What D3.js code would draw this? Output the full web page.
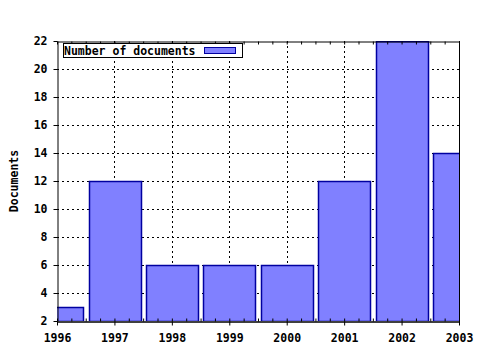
<html>
<head>
<meta charset="utf-8">
<script src="https://cdn.jsdelivr.net/npm/d3@7"></script>
<style>
  body { margin: 0; background: #fff; }
  text { font-family: "DejaVu Sans Mono", monospace; font-weight: bold; font-size: 11.5px; fill: #000; }
</style>
</head>
<body>
<script>
// data
var years = [1996, 1997, 1998, 1999, 2000, 2001, 2002, 2003];
var documents = [3, 12, 6, 6, 6, 12, 22, 14];
var yTicks = [2, 4, 6, 8, 10, 12, 14, 16, 18, 20, 22];
var seriesName = "Number of documents";
var yTitle = "Documents";

var W = 480, H = 350;
var plotL = 57, plotR = 459, plotT = 41, plotB = 321;

var svg = d3.select('body').append('svg')
  .attr('width', W).attr('height', H);

var x = d3.scaleLinear().domain([1996, 2003]).range([plotL, plotR]);
var y = d3.scaleLinear().domain([2, 22]).range([plotB, plotT]);
var step = x(1997) - x(1996);
var barW = step * 0.9;

svg.append('defs').append('clipPath').attr('id', 'plot')
  .append('rect').attr('x', plotL).attr('y', plotT)
  .attr('width', plotR - plotL).attr('height', plotB - plotT);

// dotted grid
var grid = svg.append('g').attr('stroke', '#000').attr('stroke-width', 1)
  .attr('stroke-dasharray', '2,3');
grid.selectAll('line.h').data(yTicks.slice(1, -1)).enter().append('line')
  .attr('x1', plotL).attr('x2', plotR)
  .attr('y1', function(d) { return Math.round(y(d)) + 0.5; })
  .attr('y2', function(d) { return Math.round(y(d)) + 0.5; });
grid.selectAll('line.v').data(years.slice(1, -1)).enter().append('line')
  .attr('y1', plotT).attr('y2', plotB)
  .attr('x1', function(d) { return Math.round(x(d)) + 0.5; })
  .attr('x2', function(d) { return Math.round(x(d)) + 0.5; });

// bars
svg.append('g').attr('clip-path', 'url(#plot)')
  .selectAll('rect').data(years).enter().append('rect')
  .attr('x', function(d) { return Math.round(x(d) - barW / 2) + 0.5; })
  .attr('y', function(d, i) { return Math.round(y(documents[i])) + 0.5; })
  .attr('width', Math.round(barW))
  .attr('height', function(d, i) { return Math.round(y(2) - y(documents[i])); })
  .attr('fill', '#8080ff')
  .attr('stroke', '#0000a0')
  .attr('stroke-width', 1.5);

// minor ticks every quarter year
var minor = d3.range(1996, 2003.01, 0.25);

// bottom axis
svg.append('g').attr('transform', 'translate(0,' + (plotB + 0.5) + ')')
  .call(d3.axisBottom(x).tickValues(years).tickFormat(d3.format('d'))
    .tickSizeInner(4).tickSizeOuter(0).tickPadding(8));
svg.append('g').attr('transform', 'translate(0,' + (plotB + 0.5) + ')')
  .call(d3.axisTop(x).tickValues(minor).tickFormat('').tickSizeInner(3).tickSizeOuter(0));

// top axis
svg.append('g').attr('transform', 'translate(0,' + (plotT + 0.5) + ')')
  .call(d3.axisBottom(x).tickValues(minor).tickFormat('').tickSizeInner(3).tickSizeOuter(0));

// left axis
svg.append('g').attr('transform', 'translate(' + (plotL + 0.5) + ',0)')
  .call(d3.axisLeft(y).tickValues(yTicks).tickSizeInner(4).tickSizeOuter(0).tickPadding(6));

// right frame
svg.append('line').attr('x1', plotR + 0.5).attr('x2', plotR + 0.5)
  .attr('y1', plotT).attr('y2', plotB + 1).attr('stroke', '#000');

svg.selectAll('.domain').attr('stroke', '#000');
svg.selectAll('.tick line').attr('stroke', '#000');
svg.selectAll('.tick text').style('font-family', '"DejaVu Sans Mono", monospace')
  .style('font-size', '11.5px').style('font-weight', 'bold');

// y title
svg.append('text').attr('transform', 'translate(18,' + ((plotT + plotB) / 2) + ') rotate(-90)')
  .attr('text-anchor', 'middle').text(yTitle);

// legend
var lg = svg.append('g');
lg.append('rect').attr('x', 63.5).attr('y', 43.5).attr('width', 179).attr('height', 14)
  .attr('fill', '#fff').attr('stroke', '#000');
lg.append('text').attr('x', 64).attr('y', 55).text(seriesName);
lg.append('rect').attr('x', 204.5).attr('y', 47.5).attr('width', 31).attr('height', 6)
  .attr('fill', '#8080ff').attr('stroke', '#0000a0');
</script>
</body>
</html>
